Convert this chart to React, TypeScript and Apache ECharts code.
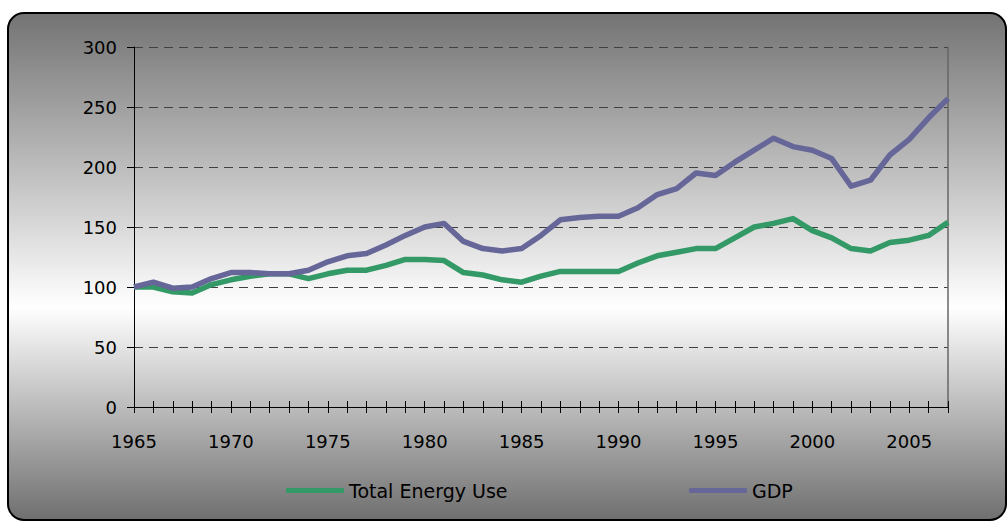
import React, { useEffect, useRef } from "react";
import * as echarts from "echarts";

const years: string[] = [
  "1965","1966","1967","1968","1969","1970","1971","1972","1973","1974",
  "1975","1976","1977","1978","1979","1980","1981","1982","1983","1984",
  "1985","1986","1987","1988","1989","1990","1991","1992","1993","1994",
  "1995","1996","1997","1998","1999","2000","2001","2002","2003","2004",
  "2005","2006","2007",
];

const energyUse: number[] = [
  100, 100, 96, 95, 102, 106, 109, 111, 111, 107,
  111, 114, 114, 118, 123, 123, 122, 112, 110, 106,
  104, 109, 113, 113, 113, 113, 120, 126, 129, 132,
  132, 141, 150, 153, 157, 147, 141, 132, 130, 137,
  139, 143, 154,
];

const gdp: number[] = [
  100, 104, 99, 100, 107, 112, 112, 111, 111, 114,
  121, 126, 128, 135, 143, 150, 153, 138, 132, 130,
  132, 143, 156, 158, 159, 159, 166, 177, 182, 195,
  193, 204, 214, 224, 217, 214, 207, 184, 189, 210,
  223, 241, 257,
];

const seriesNames: string[] = ["Total Energy Use", "GDP"];
const seriesColors: string[] = ["#339966", "#666699"];

const FONT = "DejaVu Sans";

export default function App() {
  const ref = useRef<HTMLDivElement>(null);

  useEffect(() => {
    document.body.style.margin = "0";
    if (!ref.current) return;
    const chart = echarts.init(ref.current, null, { renderer: "svg" });
    chart.setOption({
      animation: false,
      backgroundColor: "#ffffff",
      textStyle: { fontFamily: FONT },
      graphic: [
        {
          type: "rect",
          z: -100,
          silent: true,
          shape: { x: 8, y: 13, width: 998, height: 507, r: 16 },
          style: {
            fill: new echarts.graphic.LinearGradient(0, 0, 0, 1, [
              { offset: 0, color: "#737373" },
              { offset: 0.58, color: "#ffffff" },
              { offset: 1, color: "#6f6f6f" },
            ]),
            stroke: "#000000",
            lineWidth: 2,
          },
        },
      ],
      grid: { left: 134, right: 60, top: 47, bottom: 114, containLabel: false },
      legend: [
        {
          left: 286,
          top: 481,
          padding: 0,
          data: [seriesNames[0]],
          icon: "roundRect",
          itemWidth: 58,
          itemHeight: 5,
          textStyle: { fontFamily: FONT, fontSize: 19, color: "#000000", padding: [0, 0, 0, 0] },
        },
        {
          left: 689,
          top: 481,
          padding: 0,
          data: [seriesNames[1]],
          icon: "roundRect",
          itemWidth: 58,
          itemHeight: 5,
          textStyle: { fontFamily: FONT, fontSize: 19, color: "#000000" },
        },
      ],
      xAxis: [
        {
          type: "category",
          data: years,
          boundaryGap: false,
          axisLine: { show: true, lineStyle: { color: "#000000", width: 1 } },
          axisTick: { show: true, interval: 0, length: 6, lineStyle: { color: "#000000" } },
          axisLabel: {
            interval: 4,
            margin: 25,
            color: "#000000",
            fontFamily: FONT,
            fontSize: 18,
          },
          splitLine: { show: false },
        },
        {
          type: "category",
          data: years,
          boundaryGap: false,
          position: "bottom",
          axisLine: { show: false },
          axisTick: { show: true, inside: true, interval: 0, length: 6, lineStyle: { color: "#000000" } },
          axisLabel: { show: false },
          splitLine: { show: false },
        },
      ],
      yAxis: [
        {
          type: "value",
          min: 0,
          max: 300,
          interval: 50,
          axisLine: { show: true, lineStyle: { color: "#000000", width: 1 } },
          axisTick: { show: true, length: 7, lineStyle: { color: "#000000" } },
          axisLabel: {
            margin: 17,
            color: "#000000",
            fontFamily: FONT,
            fontSize: 18,
          },
          splitLine: {
            show: true,
            lineStyle: { color: "#404040", type: [9, 6], width: 1 },
          },
        },
        {
          type: "value",
          min: 0,
          max: 300,
          interval: 50,
          position: "right",
          axisLine: { show: true, onZero: false, lineStyle: { color: "#666666", width: 1.5 } },
          axisTick: { show: false },
          axisLabel: { show: false },
          splitLine: { show: false },
        },
      ],
      series: [
        {
          name: seriesNames[0],
          type: "line",
          data: energyUse,
          xAxisIndex: 0,
          yAxisIndex: 0,
          showSymbol: false,
          symbol: "none",
          color: seriesColors[0],
          lineStyle: { color: seriesColors[0], width: 5.5, join: "round" },
          z: 3,
        },
        {
          name: seriesNames[1],
          type: "line",
          data: gdp,
          xAxisIndex: 0,
          yAxisIndex: 0,
          showSymbol: false,
          symbol: "none",
          color: seriesColors[1],
          lineStyle: { color: seriesColors[1], width: 5.5, join: "round" },
          z: 4,
        },
      ],
    });
    return () => chart.dispose();
  }, []);

  return <div ref={ref} style={{ width: 1008, height: 521 }} />;
}
